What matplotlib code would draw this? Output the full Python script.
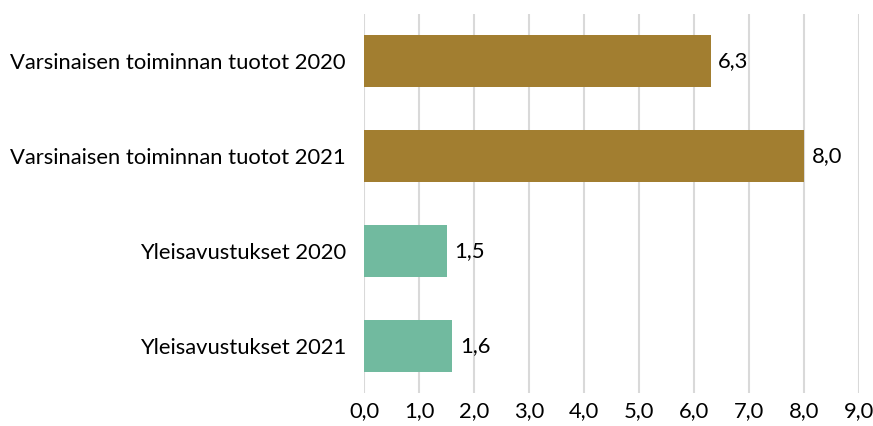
import matplotlib
matplotlib.use("Agg")
import matplotlib.pyplot as plt

categories = ["Varsinaisen toiminnan tuotot 2020", "Varsinaisen toiminnan tuotot 2021",
              "Yleisavustukset 2020", "Yleisavustukset 2021"]
values = [6.3, 8.0, 1.5, 1.6]
colors = ["#A27E30", "#A27E30", "#71BA9F", "#71BA9F"]
xticks = [0, 1, 2, 3, 4, 5, 6, 7, 8, 9]

plt.rcParams['font.family'] = ['Lato', 'DejaVu Sans']
FS = 15.8

fig = plt.figure(figsize=(8.73, 4.26), dpi=100)
ax = fig.add_axes([364/873, 1-393/426, 495/873, 379/426])

ypos = list(range(len(categories)))
bars = ax.barh(ypos, values, height=0.55, color=colors, zorder=3)
for y, v in zip(ypos, values):
    ax.text(v + 0.14, y, f"{v:.1f}".replace(".", ","), va="center", ha="left",
            fontsize=FS, color="#000000", zorder=4)

ax.set_ylim(len(categories) - 0.5, -0.5)
ax.set_xlim(0, 9)
ax.set_xticks(xticks)
ax.set_xticklabels([f"{t:.1f}".replace(".", ",") for t in xticks])
ax.set_yticks(ypos)
ax.set_yticklabels(categories)
ax.tick_params(axis="both", length=0, labelsize=FS, colors="#000000")
ax.tick_params(axis="y", pad=13)
ax.tick_params(axis="x", pad=6)
ax.grid(axis="x", color="#D9D9D9", linewidth=1.5, zorder=0)
for s in ax.spines.values():
    s.set_visible(False)

fig.savefig("out.png", dpi=100)
